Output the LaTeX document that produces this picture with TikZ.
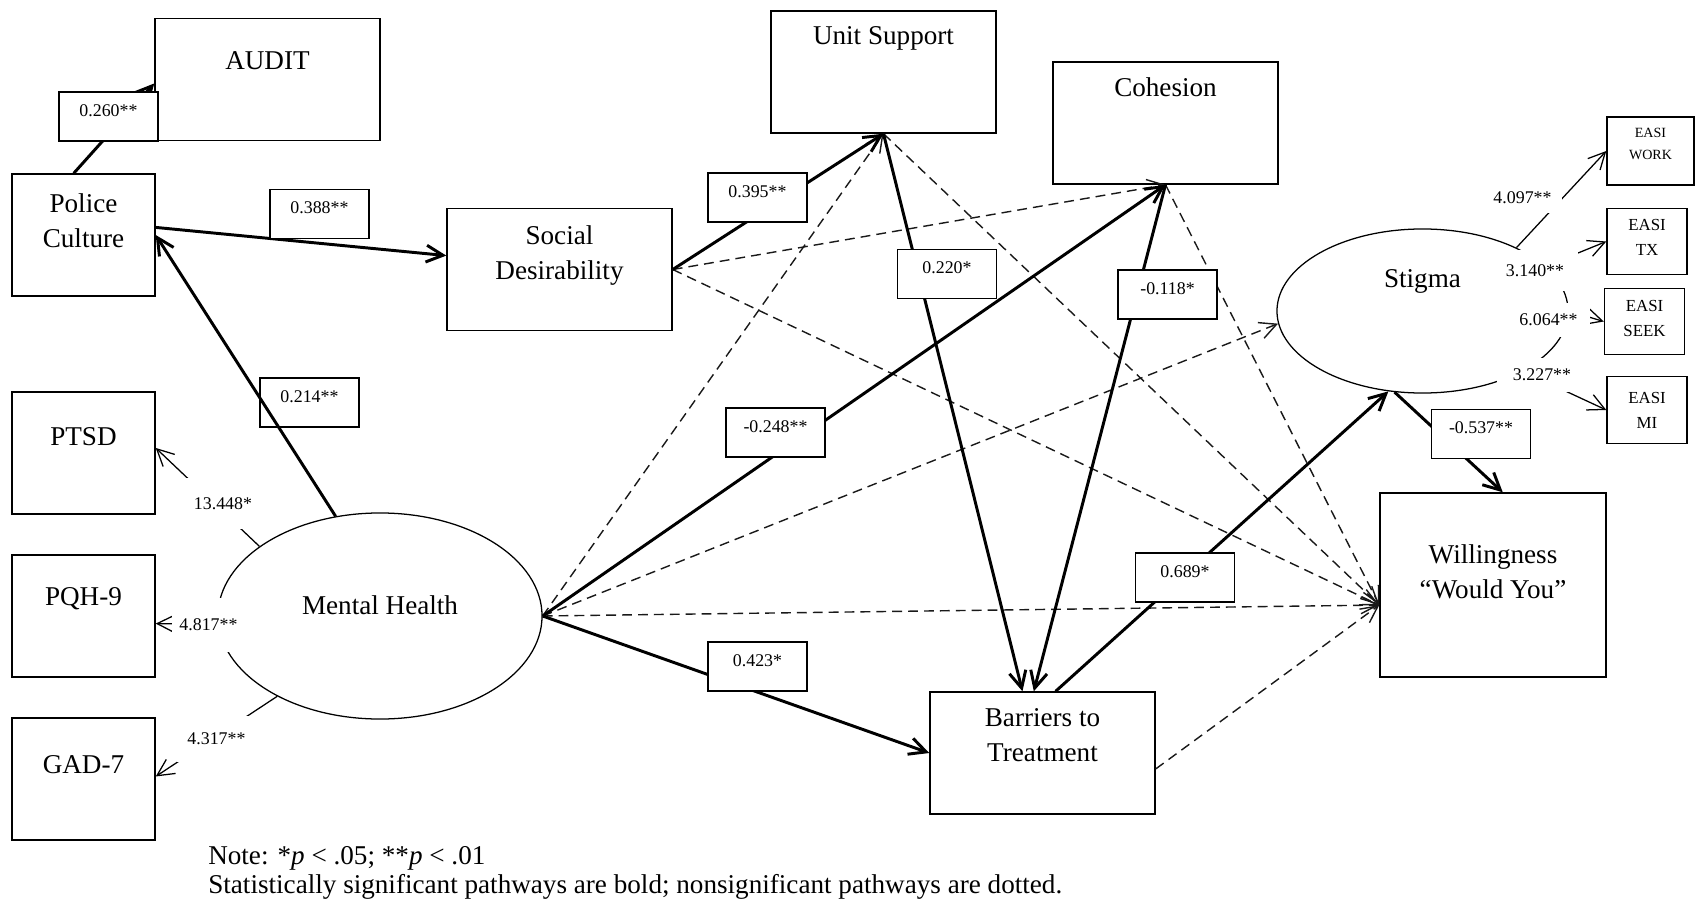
\documentclass[tikz,border=0pt]{standalone}
\usepackage{fontspec}
\setmainfont{Liberation Serif}
\usetikzlibrary{shapes.geometric,arrows.meta}
\begin{document}
\begin{tikzpicture}[x=0.025cm,y=-0.025cm,
		>={Straight Barb[length=0.42cm,width=0.42cm]},
		box/.style={draw,line width=1pt,inner sep=2pt,align=center,font=\fontsize{19.3}{25}\selectfont,minimum width=5.625cm,minimum height=3.05cm},
		sbox/.style={box,minimum width=3.575cm},
		easi/.style={draw,line width=1pt,inner sep=1pt,align=center,font=\fontsize{12}{17.7}\selectfont,minimum width=2cm,minimum height=1.66cm},
		latent/.style={draw,ellipse,line width=0.9pt,inner sep=0pt,font=\fontsize{19.3}{25}\selectfont},
		coef/.style={draw,fill=white,line width=1pt,inner sep=1pt,minimum width=2.475cm,minimum height=1.225cm,text depth=0.3cm,font=\fontsize{12.7}{15}\selectfont},
		load/.style={fill=white,inner sep=0pt,font=\fontsize{12.7}{15}\selectfont},
		sig/.style={->,line width=2.1pt},
		nsig/.style={->,line width=1pt,black!90,dash pattern=on 7pt off 4.3pt},
		ind/.style={->,line width=0.9pt}]
			\useasboundingbox (0,0) rectangle (1696,906);

			\node(audit) [box,text depth=0.93cm] at (267.5,79.5) {AUDIT};
			\node(pc) [sbox,text depth=0.7cm] at (83.5,235) {Police\\Culture};
			\node(sd) [box,text depth=0.83cm] at (559.5,269.5) {Social\\Desirability};
			\node(us) [box,text depth=1.8cm] at (883.5,72) {Unit Support};
			\node(coh) [box,text depth=1.8cm] at (1165.5,123) {Cohesion};
			\node(bt) [box,text depth=0.9cm] at (1042.5,753) {Barriers to\\Treatment};
			\node(will) [box,minimum width=5.65cm,minimum height=4.6cm,text depth=0.65cm] at (1493,585) {Willingness\\“Would You”};
			\node(ptsd) [sbox,text depth=0.8cm] at (83.5,453) {PTSD};
			\node(pqh) [sbox,text depth=0.95cm] at (83.5,616) {PQH-9};
			\node(gad) [sbox,text depth=0.73cm] at (83.5,779) {GAD-7};
			\node(mh) [latent,minimum width=8.1cm,minimum height=5.15cm,text depth=0.55cm] at (380,616) {Mental Health};
			\node(stig) [latent,minimum width=7.275cm,minimum height=4.1cm,text depth=1.64cm] at (1422.5,311) {Stigma};
			\node(work) [easi,font=\fontsize{10}{16}\selectfont,minimum width=2.175cm,minimum height=1.7cm,text depth=0.35cm] at (1650.5,151) {EASI\\WORK};
			\node(tx) [easi,text depth=0.2cm] at (1647,241.5) {EASI\\TX};
			\node(seek) [easi,text depth=0.15cm] at (1644.5,321.5) {EASI\\SEEK};
			\node(mi) [easi] at (1647,410) {EASI\\MI};

			\draw[nsig] (sd.east) -- (coh.south);
			\draw[nsig] (sd.east) -- (will.190);
			\draw[nsig] (us.south) -- (will.190);
			\draw[nsig] (coh.south) -- (will.190);
			\draw[nsig] (mh.east) -- (us.south);
			\draw[nsig] (mh.east) -- (stig.185);
			\draw[nsig] (mh.east) -- (will.190);
			\draw[nsig] (bt.-8) -- (will.190);

			\draw[sig] (pc.99) -- (audit.182);
			\draw[sig] (pc.6) -- (sd.173);
			\draw[sig] (sd.east) -- (us.south);
			\draw[sig] (us.south) -- (bt.108);
			\draw[sig] (coh.south) -- (bt.98);
			\draw[sig] (mh.east) -- (coh.south);
			\draw[sig] (mh.east) -- (bt.west);
			\draw[sig] (bt.78) -- (stig.247);
			\draw[sig] (stig.251) -- (will.84);

			\draw[ind] (mh.150) -- (ptsd.4);
			\draw[ind] (mh.183) -- (pqh.354);
			\draw[ind] (mh.218) -- (gad.2);
			\draw[ind] (stig.34) -- (work.west);
			\draw[ind] (stig.20) -- (tx.west);
			\draw[ind] (stig.0) -- (seek.west);
			\draw[ind] (stig.-31) -- (mi.west);

			\node(c260) [coef] at (108.5,116.5) {0.260**};
			\node(c388) [coef] at (319.5,214) {0.388**};
			\node(c395) [coef] at (757.5,197.5) {0.395**};
			\node(c220) [coef] at (947,274) {0.220*};
			\node(c118) [coef] at (1167.5,294.5) {-0.118*};
			\node(c248) [coef] at (775.5,432.5) {-0.248**};
			\node(c423) [coef] at (757.5,666.5) {0.423*};
			\node(c689) [coef] at (1185,577.5) {0.689*};
			\node(c537) [coef] at (1481,434) {-0.537**};
			\node(c214) [coef] at (309.5,402.5) {0.214**};
			\draw[sig] (mh.114) -- (pc.east);

			\node(l1) [load,minimum width=1.85cm,minimum height=1.275cm] at (223,503.5) {13.448*};
			\node(l2) [load,minimum width=1.825cm,minimum height=1.35cm] at (208.5,625) {4.817**};
			\node(l3) [load,minimum width=1.975cm,minimum height=1.15cm] at (216.5,739) {4.317**};
			\node(l4) [load,minimum width=1.975cm,minimum height=0.775cm] at (1522.5,197.5) {4.097**};
			\node(l5) [load,minimum width=2.15cm,minimum height=1.025cm] at (1535,270.5) {3.140**};
			\node(l6) [load,minimum width=2.075cm,minimum height=0.85cm] at (1548.5,320) {6.064**};
			\node(l7) [load,minimum width=2.25cm,minimum height=0.85cm] at (1542,375) {3.227**};

			\node(note) [anchor=west,align=left,inner sep=0pt,font=\fontsize{19.3}{20.5}\selectfont] at (208,873) {Note: *\textit{p} < .05; **\textit{p} < .01\\Statistically significant pathways are bold; nonsignificant pathways are dotted.};
		\end{tikzpicture}
\end{document}
